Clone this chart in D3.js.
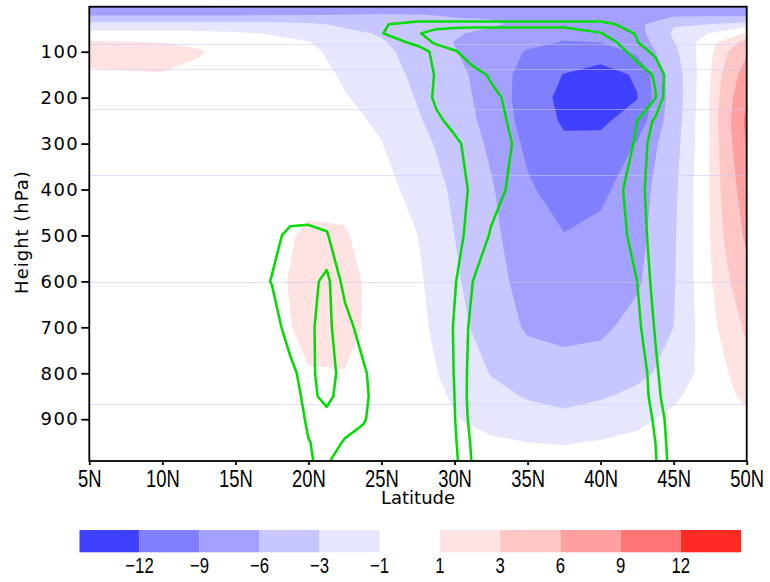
<!DOCTYPE html>
<meta charset="utf-8">
<style>

    body {
        margin: 0;
        background: #fff;
    }

    .y-axis text {
        font: 18px "DejaVu Sans", sans-serif;
        letter-spacing: 1.5px;
        fill: #000;
    }

    .x-axis text, .bar-label {
        font: 23px "Liberation Sans", Arial, sans-serif;
        fill: #000;
    }

    .bar-label {
        font-size: 22px;
    }

    .tick line {
        stroke: #000;
        stroke-width: 1.8px;
    }

    .frame {
        fill: none;
        stroke: #000;
        stroke-width: 1.8px;
    }

    .title {
        font: 18px "DejaVu Sans", sans-serif;
        fill: #000;
    }

    .seam {
        stroke: #c8c8ff;
        stroke-opacity: .55;
        stroke-width: 1px;
    }

    .ring {
        fill: none;
        stroke: #00dc00;
        stroke-width: 2.5px;
        stroke-linejoin: round;
    }

</style>
<svg></svg>
<script src="https://cdn.jsdelivr.net/npm/d3@7"></script>
<script>

    var width = 770,
        height = 582;

    // shaded field: one row per pressure level, one value per latitude
    var lats = [5, 7.5, 10, 12.5, 15, 17.5, 20, 22.5, 25, 27.5, 30, 32.5, 35, 37.5, 40, 42.5, 45, 47.5, 50];
    var levels = [2, 20, 40, 60, 80, 100, 150, 200, 250, 300, 400, 500, 600, 700, 800, 850, 900, 950, 990];
    var anomaly = [
        [-9.5, -9.5, -9.4, -9.3, -9.2, -9.0, -8.8, -8.5, -8.2, -8.0, -8.0, -8.0, -7.8, -7.8, -7.8, -7.8, -7.6, -7.5, -7.5],
        [-6.2, -6.2, -6.2, -6.2, -6.2, -6.1, -6.0, -5.9, -5.8, -5.9, -6.2, -6.3, -6.6, -7.0, -7.2, -7.2, -6.6, -6.5, -6.5],
        [-2.1, -2.1, -2.1, -2.1, -2.1, -2.2, -2.6, -3.4, -4.0, -4.8, -5.5, -5.7, -6.5, -7.2, -7.5, -6.8, -3.2, -3.0, -2.0],
        [-0.55, -0.55, -0.55, -0.6, -0.8, -1.1, -1.6, -2.5, -3.2, -4.3, -5.8, -6.5, -7.0, -8.3, -8.2, -7.0, -2.6, -0.9, 1.2],
        [1.3, 1.2, 1.0, 0.7, 0.2, -0.6, -0.9, -2.0, -2.8, -4.0, -6.05, -6.8, -8.2, -9.2, -9.0, -7.6, -3.1, 0.4, 3.8],
        [1.5, 1.45, 1.4, 1.15, 0.3, -0.2, -0.6, -1.7, -2.5, -3.8, -5.9, -7.0, -9.3, -10.3, -10.8, -8.4, -3.6, 0.6, 5.5],
        [0.8, 0.9, 0.95, 0.6, 0.2, 0, -0.2, -1.25, -2.0, -3.5, -5.2, -7.3, -10.2, -12.1, -13.0, -11.7, -4.3, 0.9, 7.6],
        [0.3, 0.3, 0.3, 0.2, 0.1, 0, 0, -0.9, -1.6, -3.15, -4.7, -7.3, -10.3, -12.8, -13.5, -12.1, -4.4, 1.1, 8.9],
        [0.2, 0.2, 0.2, 0.1, 0, 0, 0, -0.6, -1.25, -2.8, -4.4, -7.0, -10.1, -12.4, -12.5, -10.8, -4.2, 1.15, 9.7],
        [0.1, 0.1, 0.1, 0, 0, 0, 0.1, -0.3, -0.95, -2.3, -4.0, -6.5, -9.6, -11.5, -11.3, -8.8, -3.9, 1.1, 9.2],
        [0, 0, 0, 0, 0, 0.1, 0.4, 0.3, -0.6, -1.4, -3.4, -5.7, -8.6, -10.3, -9.6, -7.5, -3.5, 1.1, 7.8],
        [0, 0, 0, 0, 0, 0.45, 1.3, 1.2, -0.3, -1.0, -3.0, -5.3, -7.8, -8.9, -8.3, -7.0, -3.3, 1.0, 6.6],
        [0, 0, 0, 0, 0, 0.5, 1.7, 1.6, 0.3, -0.7, -2.6, -4.8, -7.2, -7.8, -7.5, -6.4, -3.2, 0.8, 4.8],
        [0, 0, 0, 0, 0, 0.4, 1.5, 1.5, 0.4, -0.5, -2.2, -4.1, -6.4, -6.6, -6.6, -5.0, -3.0, 0.4, 3.4],
        [0, 0, 0, 0, 0, 0.1, 0.9, 0.95, 0.1, -0.3, -1.6, -3.1, -4.3, -5.2, -4.5, -3.5, -2.3, 0, 2.0],
        [0, 0, 0, 0, 0, 0, 0.6, 0.6, 0, -0.2, -1.2, -2.3, -3.2, -3.8, -3.2, -2.5, -1.3, 0, 1.4],
        [0, 0, 0, 0, 0, 0, 0.3, 0.3, 0, -0.1, -0.9, -1.5, -2.0, -2.3, -2.0, -1.4, -0.6, 0, 0.6],
        [0, 0, 0, 0, 0, 0, 0.1, 0.1, 0, 0, -0.6, -0.8, -1.0, -1.1, -0.9, -0.6, -0.3, 0, 0.3],
        [0, 0, 0, 0, 0, 0, 0, 0, 0, 0, -0.3, -0.4, -0.5, -0.5, -0.5, -0.2, 0, 0, 0.1]
    ];

    // green contour field, on its own (uneven) grid
    var ringLats = [15, 17.5, 18.75, 20, 21.25, 22.5, 23.75, 25, 27.5, 28.75, 30, 31.25, 32.5, 35, 37.5, 40, 42.5, 43.75, 45, 47.5];
    var ringLevels = [20, 40, 60, 80, 100, 150, 200, 250, 300, 400, 500, 600, 700, 800, 850, 900, 950, 990];
    var ringField = [
        [0, 0, 0, 0, 0, 0, 0, 0, 0, 0, 0, 0, 0, 0, 0, 0, 0, 0, 0, 0],
        [0, 0, 0, 0, 0, 0, 0.5, 0.9, 1.4, 1.4, 1.4, 1.4, 1.4, 1.4, 1.4, 1.4, 0.4, 0.2, 0, 0],
        [0, 0, 0, 0, 0, 0, 0.5, 0.95, 1.9, 2.5, 2.8, 3, 3, 3, 3, 2.05, 0.9, 0.3, 0, 0],
        [0, 0, 0, 0, 0, 0, 0.1, 0.3, 1.3, 2.18, 2.5, 2.7, 3, 3, 3, 2.8, 1.05, 0.3, 0, 0],
        [0, 0, 0, 0, 0, 0, 0, 0.1, 0.5, 1.3, 1.9, 2.5, 2.8, 3, 3, 3, 1.6, 0.7, 0.2, 0],
        [0, 0, 0, 0, 0, 0, 0, 0, 0.3, 1.1, 1.4, 1.7, 2.1, 3, 3, 3, 2.5, 1.9, 0, 0],
        [0, 0, 0, 0, 0, 0, 0, 0, 0.3, 1.2, 1.35, 1.5, 1.8, 2.5, 3, 3, 2.5, 2.05, -0.5, 0],
        [0, 0, 0, 0, 0, 0, 0, 0, 0.2, 0.8, 1.3, 1.5, 1.7, 2.4, 3, 3, 2.0, 0.8, 0.2, 0],
        [0, 0, 0, 0, 0, 0, 0, 0, 0, 0.2, 0.8, 1.35, 1.6, 2.3, 3, 2.9, 1.9, 0.3, 0, 0],
        [0, 0, 0, 0, 0, 0, 0, 0, 0, 0, 0.6, 1.15, 1.6, 2.6, 3, 2.8, 1.5, 0.3, 0, 0],
        [0, 0.7, 1.25, 1.3, 1.1, 0, 0, 0, 0, 0, 0.7, 1.3, 2.1, 3, 3, 2.8, 1.7, 0.4, 0, 0],
        [0, 1.05, 1.4, 1.6, 2.3, 0.59, 0, 0, 0, 0, 0.9, 2.0, 3, 3, 3, 3, 2.0, 0.6, 0, 0],
        [0, 0.4, 1.55, 1.9, 2.2, 1.49, 0.47, 0, 0, 0, 1.1, 2.3, 3, 3, 3, 3, 2.3, 0.9, 0, 0],
        [0, 0, 0.66, 1.6, 2.7, 1.35, 1.2, 0.2, 0, 0, 1.05, 2.45, 3, 3, 3, 3, 3, 1.2, 0, 0],
        [0, 0, 0, 1.7, 2.3, 1.47, 1.3, 0.3, 0, 0, 1.0, 2.5, 3, 3, 3, 3, 3, 1.4, 0, 0],
        [0, 0, 0, 1.25, 1.65, 1.4, 1.15, 0.2, 0, 0, 0.95, 2.4, 3, 3, 3, 3, 3, 1.8, 0.2, 0],
        [0, 0, 0, 0.95, 1.4, 0.92, 0.5, 0, 0, 0, 0.85, 2.2, 3, 3, 3, 3, 3, 2.0, 0.3, 0],
        [0, 0, 0, 0.93, 1.2, 0.2, 0, 0, 0, 0, 0.75, 2.1, 3, 3, 3, 3, 3, 2.1, 0.4, 0]
    ];
    var ringThresholds = [1, 2];

    // colour bar
    var barLevels = [-12, -9, -6, -3, -1, 1, 3, 6, 9, 12];
    var barColors = ["#4040ff", "#8080ff", "#a4a0ff", "#c8c6ff", "#e6e6ff",
                     "#ffe3e3", "#ffc6c6", "#ffa0a0", "#ff7474", "#ff2a24"];
    var barLabels = ["\u221212", "\u22129", "\u22126", "\u22123", "\u22121", "1", "3", "6", "9", "12"];

    var xTicks = [5, 10, 15, 20, 25, 30, 35, 40, 45, 50];
    var yTicks = [100, 200, 300, 400, 500, 600, 700, 800, 900];
    var seamLevels = [83, 138, 225, 368, 601, 867];

    var svg = d3.select("svg")
        .attr("width", width)
        .attr("height", height);

    var x = d3.scaleLinear().domain([5, 50]).range([89.3, 746.7]);
    var y = d3.scaleLinear().domain([2, 991]).range([6.7, 461]);

    // contour output is in grid-index space; map it back through the grid coordinates
    function gridPath(latList, levelList) {
        var li = d3.scaleLinear().domain(latList.map(function(d, i) { return i + 0.5; })).range(latList);
        var pi = d3.scaleLinear().domain(levelList.map(function(d, i) { return i + 0.5; })).range(levelList);
        return d3.geoPath(d3.geoTransform({
            point: function(cx, cy) { this.stream.point(x(li(cx)), y(pi(cy))); }
        }));
    }

    svg.append("clipPath").attr("id", "plot-clip")
        .append("rect")
        .attr("x", x(5)).attr("y", y(2))
        .attr("width", x(50) - x(5)).attr("height", y(991) - y(2));

    var plot = svg.append("g").attr("clip-path", "url(#plot-clip)");

    var flat = d3.merge(anomaly);
    var fillPath = gridPath(lats, levels);
    var fillContours = d3.contours().size([lats.length, levels.length]);

    // blue: value <= level, drawn from weakest to strongest
    [4, 3, 2, 1, 0].forEach(function(k) {
        var neg = flat.map(function(v) { return -v; });
        plot.append("path")
            .attr("fill", barColors[k])
            .attr("d", fillPath(fillContours.contour(neg, -barLevels[k])));
    });
    // red: value >= level
    [5, 6, 7, 8, 9].forEach(function(k) {
        plot.append("path")
            .attr("fill", barColors[k])
            .attr("d", fillPath(fillContours.contour(flat, barLevels[k])));
    });

    plot.selectAll(".seam")
        .data(seamLevels)
        .enter().append("line")
        .attr("class", "seam")
        .attr("x1", x(5)).attr("x2", x(50))
        .attr("y1", function(d) { return Math.round(y(d)) + 0.5; })
        .attr("y2", function(d) { return Math.round(y(d)) + 0.5; });

    // pad one copy of the bottom row below the plot so rings are not closed along the axis
    var ringPadded = ringField.concat([ringField[ringField.length - 1]]);
    var ringLevelsPadded = ringLevels.concat([ringLevels[ringLevels.length - 1] + 60]);
    var ringPath = gridPath(ringLats, ringLevelsPadded);
    var ringContours = d3.contours().size([ringLats.length, ringLevelsPadded.length]);
    var ringFlat = d3.merge(ringPadded);

    ringThresholds.forEach(function(t) {
        plot.append("path")
            .attr("class", "ring")
            .attr("d", ringPath(ringContours.contour(ringFlat, t)));
    });

    // axes
    svg.append("g")
        .attr("class", "y-axis")
        .attr("transform", "translate(" + x(5) + ",0)")
        .call(d3.axisLeft(y).tickValues(yTicks).tickSize(8).tickPadding(2))
        .call(function(g) { g.select(".domain").remove(); });

    svg.append("g")
        .attr("class", "x-axis")
        .attr("transform", "translate(0," + y(991) + ")")
        .call(d3.axisBottom(x).tickValues(xTicks).tickSize(4).tickPadding(6)
            .tickFormat(function(d) { return d + "N"; }))
        .call(function(g) { g.select(".domain").remove(); })
        .call(function(g) { g.selectAll("text").attr("transform", "scale(0.8,1)"); });

    svg.append("rect")
        .attr("class", "frame")
        .attr("x", x(5)).attr("y", y(2))
        .attr("width", x(50) - x(5)).attr("height", y(991) - y(2));

    svg.append("text")
        .attr("class", "title")
        .attr("x", 418).attr("y", 504)
        .attr("text-anchor", "middle")
        .text("Latitude");

    svg.append("text")
        .attr("class", "title")
        .attr("transform", "translate(28,232) rotate(-90)")
        .attr("text-anchor", "middle")
        .style("letter-spacing", "1px")
        .text("Height (hPa)");

    // colour bar
    var barBlue = d3.scaleLinear().domain([0, 5]).range([79.5, 379.5]);
    var barRed = d3.scaleLinear().domain([5, 10]).range([440, 741]);
    function barX(k) { return k < 5 ? barBlue(k) : barRed(k); }
    function barW(k) { return k < 5 ? barBlue(k + 1) - barBlue(k) : barRed(k + 1) - barRed(k); }

    var bar = svg.append("g");
    bar.selectAll("rect")
        .data(barColors)
        .enter().append("rect")
        .attr("x", function(d, k) { return barX(k); })
        .attr("y", 530)
        .attr("width", function(d, k) { return barW(k); })
        .attr("height", 22.3)
        .attr("fill", function(d) { return d; });

    bar.selectAll("text")
        .data(barLabels)
        .enter().append("text")
        .attr("class", "bar-label")
        .attr("transform", function(d, k) {
            var lx = k < 5 ? barBlue(k + 1) : barRed(k);
            return "translate(" + lx + ",573) scale(0.76,1)";
        })
        .attr("text-anchor", "middle")
        .text(function(d) { return d; });

</script>
